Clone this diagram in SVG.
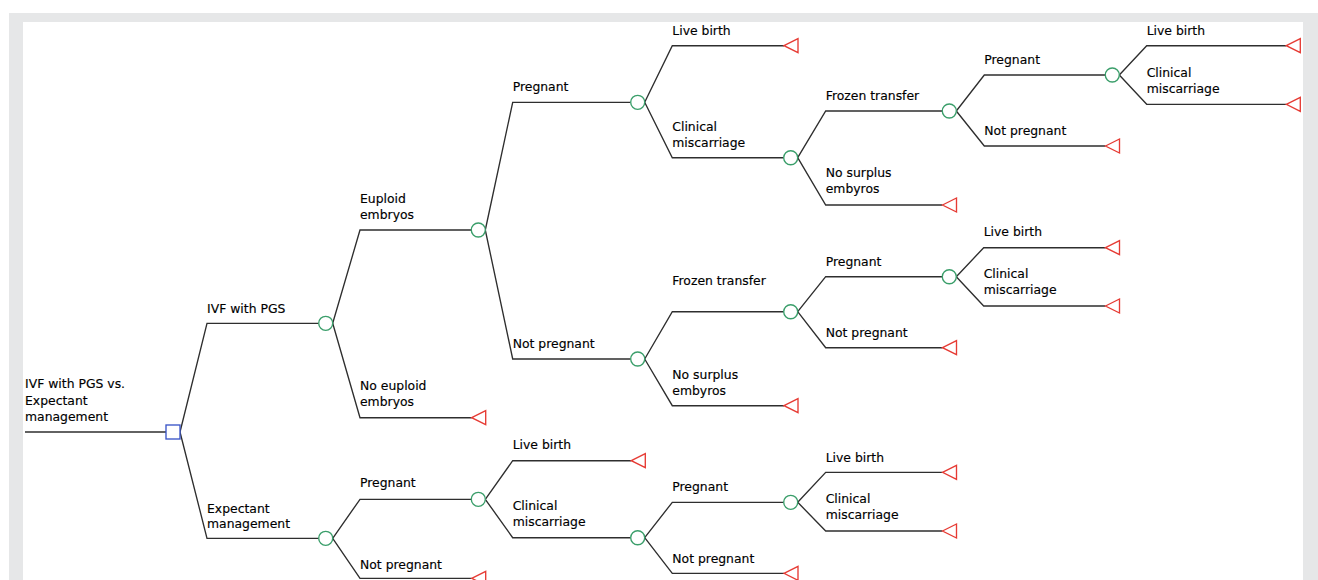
<svg xmlns="http://www.w3.org/2000/svg" width="1318" height="580" viewBox="0 0 1318 580">
<style>
.bg{fill:#e6e7e8}
.panel{fill:#ffffff}
.ln{fill:none;stroke:#2e2e2e;stroke-width:1.35;stroke-linejoin:miter}
.chance{fill:#ffffff;stroke:#3a9e6a;stroke-width:1.35}
.decision{fill:#ffffff;stroke:#3a55c8;stroke-width:1.35}
.term{fill:#ffffff;stroke:#e63b34;stroke-width:1.35;stroke-linejoin:miter}
text{font-family:"DejaVu Sans","Liberation Sans",sans-serif;font-size:12.4px;fill:#000000;stroke:#000000;stroke-width:0.15}
</style>
<defs>
<polygon id="tri" class="term" points="0,0 14,-7 14,7"/>
</defs>
<rect class="bg" x="9" y="13" width="1309" height="567"/>
<rect class="panel" x="23" y="22" width="1280" height="558"/>

<g id="connectors">
<polyline class="ln" points="25,432 166,432"/>
<polyline class="ln" points="180,432 207,323.3 318.7,323.3"/>
<polyline class="ln" points="180,432 207,538.3 318.7,538.3"/>
<polyline class="ln" points="332.7,323.3 360,230 471.3,230"/>
<polyline class="ln" points="332.7,323.3 360,417.7 471.7,417.7"/>
<polyline class="ln" points="485.3,230 512.7,102.3 630.7,102.3"/>
<polyline class="ln" points="485.3,230 512.7,359 630.7,359"/>
<polyline class="ln" points="644.7,102.3 672.3,45.7 784,45.7"/>
<polyline class="ln" points="644.7,102.3 672.3,157.7 783.7,157.7"/>
<polyline class="ln" points="797.7,157.7 825.7,111 942.3,111"/>
<polyline class="ln" points="797.7,157.7 825.7,205 942.5,205"/>
<polyline class="ln" points="956.3,111 984.3,75 1105.3,75"/>
<polyline class="ln" points="956.3,111 984.3,146 1105.5,146"/>
<polyline class="ln" points="1119.3,75 1146.7,45.7 1286.3,45.7"/>
<polyline class="ln" points="1119.3,75 1146.7,104.3 1286.3,104.3"/>
<polyline class="ln" points="644.7,359 672.3,311.7 783.7,311.7"/>
<polyline class="ln" points="644.7,359 672.3,405.7 784,405.7"/>
<polyline class="ln" points="797.7,311.7 825.7,276.7 942.3,276.7"/>
<polyline class="ln" points="797.7,311.7 825.7,347.7 942.5,347.7"/>
<polyline class="ln" points="956.3,276.7 983.7,247.7 1105.5,247.7"/>
<polyline class="ln" points="956.3,276.7 983.7,306 1105.5,306"/>
<polyline class="ln" points="332.7,538.3 360,499.3 471.3,499.3"/>
<polyline class="ln" points="332.7,538.3 360,578.3 471.7,578.3"/>
<polyline class="ln" points="485.3,499.3 512.7,460.7 631.3,460.7"/>
<polyline class="ln" points="485.3,499.3 512.7,537.7 630.7,537.7"/>
<polyline class="ln" points="644.7,537.7 672.3,502.3 783.7,502.3"/>
<polyline class="ln" points="644.7,537.7 672.3,573.3 784,573.3"/>
<polyline class="ln" points="797.7,502.3 825.7,472.3 942.5,472.3"/>
<polyline class="ln" points="797.7,502.3 825.7,531 942.5,531"/>
</g>

<g id="branch-labels">
<text x="25" y="388">IVF with PGS vs.</text>
<text x="25" y="404.5">Expectant</text>
<text x="25" y="421">management</text>
<text x="207" y="313">IVF with PGS</text>
<text x="207" y="512.5">Expectant</text>
<text x="207" y="528">management</text>
<text x="360" y="203">Euploid</text>
<text x="360" y="219">embryos</text>
<text x="360" y="390">No euploid</text>
<text x="360" y="406">embryos</text>
<text x="512.7" y="91">Pregnant</text>
<text x="512.7" y="347.5">Not pregnant</text>
<text x="672.3" y="35">Live birth</text>
<text x="672.3" y="131">Clinical</text>
<text x="672.3" y="147">miscarriage</text>
<text x="825.7" y="100">Frozen transfer</text>
<text x="825.7" y="177">No surplus</text>
<text x="825.7" y="193">embyros</text>
<text x="984.3" y="64">Pregnant</text>
<text x="984.3" y="134.5">Not pregnant</text>
<text x="1146.7" y="35">Live birth</text>
<text x="1146.7" y="76.5">Clinical</text>
<text x="1146.7" y="92.5">miscarriage</text>
<text x="672.3" y="285">Frozen transfer</text>
<text x="672.3" y="379">No surplus</text>
<text x="672.3" y="395">embyros</text>
<text x="825.7" y="266">Pregnant</text>
<text x="825.7" y="337">Not pregnant</text>
<text x="983.7" y="236">Live birth</text>
<text x="983.7" y="278">Clinical</text>
<text x="983.7" y="294">miscarriage</text>
<text x="360" y="487">Pregnant</text>
<text x="360" y="568.5">Not pregnant</text>
<text x="512.7" y="448.5">Live birth</text>
<text x="512.7" y="509.5">Clinical</text>
<text x="512.7" y="525.5">miscarriage</text>
<text x="672.3" y="491">Pregnant</text>
<text x="672.3" y="562.7">Not pregnant</text>
<text x="825.7" y="461.7">Live birth</text>
<text x="825.7" y="503">Clinical</text>
<text x="825.7" y="519">miscarriage</text>
</g>

<g id="decision-root"><rect class="decision" x="166" y="425" width="14" height="14"/></g>
<g id="chance-ivf"><circle class="chance" cx="325.7" cy="323.3" r="7"/></g>
<g id="chance-expectant"><circle class="chance" cx="325.7" cy="538.3" r="7"/></g>
<g id="chance-euploid"><circle class="chance" cx="478.3" cy="230" r="7"/></g>
<g id="chance-pregnant-1"><circle class="chance" cx="637.7" cy="102.3" r="7"/></g>
<g id="chance-notpregnant-1"><circle class="chance" cx="637.7" cy="359" r="7"/></g>
<g id="chance-miscarriage-1"><circle class="chance" cx="790.7" cy="157.7" r="7"/></g>
<g id="chance-frozen-1"><circle class="chance" cx="949.3" cy="111" r="7"/></g>
<g id="chance-pregnant-2"><circle class="chance" cx="1112.3" cy="75" r="7"/></g>
<g id="chance-frozen-2"><circle class="chance" cx="790.7" cy="311.7" r="7"/></g>
<g id="chance-pregnant-3"><circle class="chance" cx="949.3" cy="276.7" r="7"/></g>
<g id="chance-pregnant-4"><circle class="chance" cx="478.3" cy="499.3" r="7"/></g>
<g id="chance-miscarriage-4"><circle class="chance" cx="637.7" cy="537.7" r="7"/></g>
<g id="chance-pregnant-5"><circle class="chance" cx="790.7" cy="502.3" r="7"/></g>

<g id="term-no-euploid"><use href="#tri" x="471.7" y="417.7"/></g>
<g id="term-exp-notpregnant"><use href="#tri" x="471.7" y="578.3"/></g>
<g id="term-livebirth-1"><use href="#tri" x="784" y="45.7"/></g>
<g id="term-nosurplus-1"><use href="#tri" x="942.5" y="205"/></g>
<g id="term-notpregnant-2"><use href="#tri" x="1105.5" y="146"/></g>
<g id="term-livebirth-2"><use href="#tri" x="1286.3" y="45.7"/></g>
<g id="term-miscarriage-2"><use href="#tri" x="1286.3" y="104.3"/></g>
<g id="term-nosurplus-2"><use href="#tri" x="784" y="405.7"/></g>
<g id="term-notpregnant-3"><use href="#tri" x="942.5" y="347.7"/></g>
<g id="term-livebirth-3"><use href="#tri" x="1105.5" y="247.7"/></g>
<g id="term-miscarriage-3"><use href="#tri" x="1105.5" y="306"/></g>
<g id="term-livebirth-4"><use href="#tri" x="631.3" y="460.7"/></g>
<g id="term-notpregnant-5"><use href="#tri" x="784" y="573.3"/></g>
<g id="term-livebirth-5"><use href="#tri" x="942.5" y="472.3"/></g>
<g id="term-miscarriage-5"><use href="#tri" x="942.5" y="531"/></g>
</svg>
